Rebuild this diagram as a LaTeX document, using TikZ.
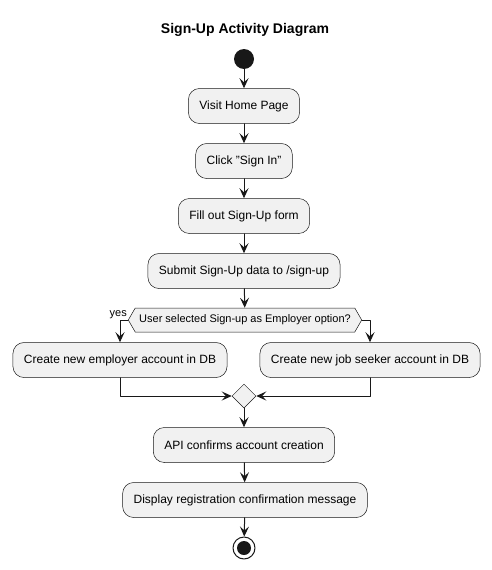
\documentclass[tikz,border=0pt]{standalone}
\usepackage{fontspec}
\setmainfont{Liberation Sans}
\usetikzlibrary{arrows.meta, shapes.geometric, shapes.symbols}
\definecolor{boxgray}{RGB}{241, 241, 241}
\definecolor{inkdark}{RGB}{24, 24, 24}

\begin{document}
\begin{tikzpicture}[x=1pt, y=-1pt, line cap=round, line join=round,
    activity/.style={draw=inkdark, fill=boxgray, line width=0.5pt, rounded corners=11pt,
        minimum height=35pt, inner xsep=11pt, font=\fontsize{12}{14}\selectfont},
    question/.style={draw=inkdark, fill=boxgray, line width=0.5pt, signal, signal to=west and east,
        signal pointer angle=120, minimum height=24pt, inner xsep=4pt, inner ysep=2pt,
        font=\fontsize{11}{13}\selectfont},
    joint/.style={draw=inkdark, fill=boxgray, line width=0.5pt, diamond, inner sep=0pt, minimum size=24pt},
    flow/.style={-{Stealth[length=10pt, width=9pt, inset=4pt]}, inkdark, line width=1pt}]
    \useasboundingbox (0,0) rectangle (491,570);

    \node[font=\bfseries\fontsize{14}{16}\selectfont] (title) at (245,30) {Sign-Up Activity Diagram};

    \node[circle, fill=inkdark, inner sep=0pt, minimum size=20pt] (start) at (244,59) {};
    \node[activity] (visit) at (244,106) {Visit Home Page};
    \node[activity] (click) at (244,161) {Click "Sign In"};
    \node[activity] (fill) at (244,216) {Fill out Sign-Up form};
    \node[activity] (submit) at (244,271) {Submit Sign-Up data to /sign-up};
    \node[question] (ask) at (245,320) {User selected Sign-up as Employer option?};
    \node[activity] (employer) at (120,360) {Create new employer account in DB};
    \node[activity] (seeker) at (370,360) {Create new job seeker account in DB};
    \node[joint] (merge) at (244,396) {};
    \node[activity] (confirm) at (244,445) {API confirms account creation};
    \node[activity] (display) at (245,500) {Display registration confirmation message};
    \node[circle, draw=inkdark, fill=white, line width=1pt, inner sep=0pt, minimum size=22pt] (stop) at (244,548) {};
    \node[circle, fill=inkdark, inner sep=0pt, minimum size=14pt] (stopdot) at (stop) {};

    \draw[flow] (start) -- (visit);
    \draw[flow] (visit) -- (click);
    \draw[flow] (click) -- (fill);
    \draw[flow] (fill) -- (submit);
    \draw[flow] (submit) -- (ask);
    \draw[flow] (ask.west) -| (employer.north);
    \node[anchor=south east, inner sep=1pt, font=\fontsize{11}{13}\selectfont] (yes) at (ask.west) {yes};
    \draw[flow] (ask.east) -| (seeker.north);
    \draw[flow] (employer.south) |- (merge.west);
    \draw[flow] (seeker.south) |- (merge.east);
    \draw[flow] (merge) -- (confirm);
    \draw[flow] (confirm) -- (display);
    \draw[flow] (display) -- (stop);
\end{tikzpicture}
\end{document}
